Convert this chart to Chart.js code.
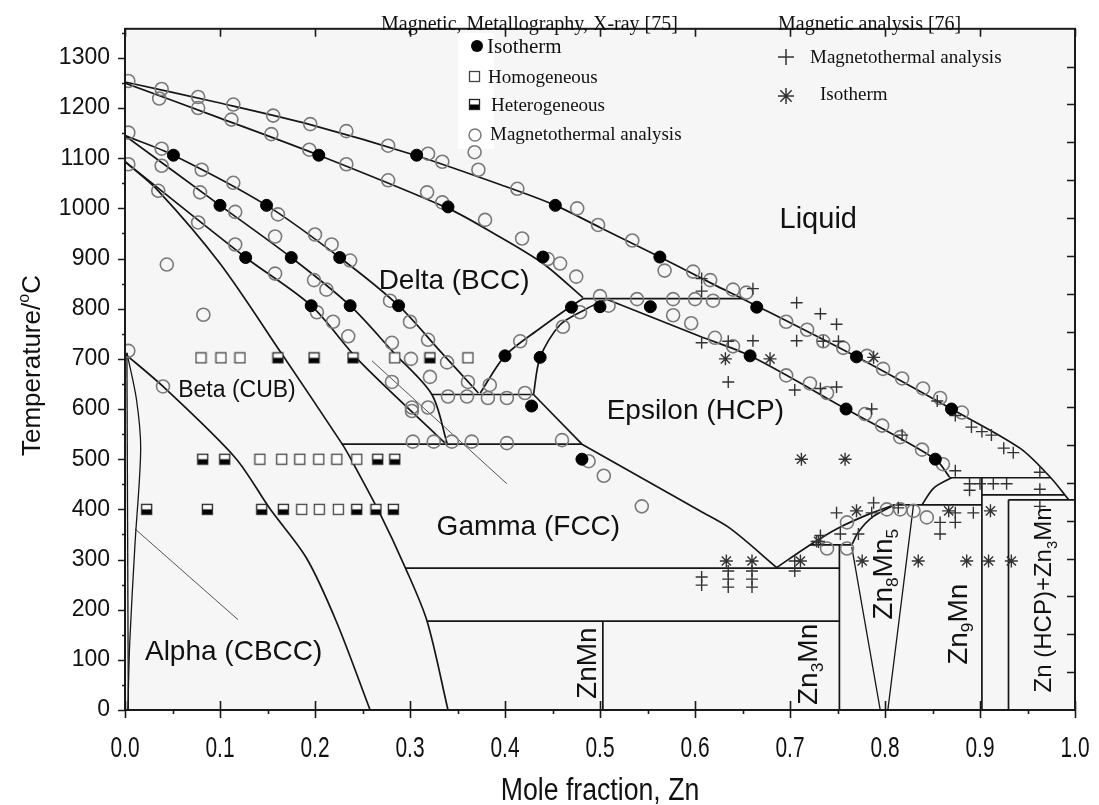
<!DOCTYPE html>
<html>
<head>
<meta charset="utf-8">
<script src="https://cdn.jsdelivr.net/npm/chart.js@4.4.1/dist/chart.umd.min.js"></script>
<style>
  html, body { margin: 0; padding: 0; background: #fff; }
</style>
</head>
<body>
<canvas id="phase" width="1099" height="805"></canvas>
<script>
/* Mn–Zn phase diagram: boundaries + experimental points */

const xTicks = [0, 0.1, 0.2, 0.3, 0.4, 0.5, 0.6, 0.7, 0.8, 0.9, 1.0];
const yTicks = [0, 100, 200, 300, 400, 500, 600, 700, 800, 900, 1000, 1100, 1200, 1300];

// phase boundaries, [mole fraction Zn, T °C]
const liquidus = [[0, 1252], [0.1, 1210], [0.195, 1167], [0.307, 1105], [0.4, 1044], [0.453, 1006], [0.5, 962], [0.563, 903], [0.62, 848], [0.652, 818], [0.77, 704], [0.87, 600], [0.942, 522], [0.974, 464], [0.993, 420]];
const deltaSolidus = [[0, 1250], [0.1, 1180], [0.204, 1106], [0.34, 1000], [0.39, 948], [0.44, 890], [0.482, 822]];
const deltaUpper = [[0, 1145], [0.051, 1106], [0.149, 1006], [0.226, 902], [0.288, 806], [0.33, 719], [0.372, 632]];
const deltaLower = [[0, 1145], [0.1, 1006], [0.175, 902], [0.237, 806], [0.283, 712], [0.323, 629], [0.339, 532]];
const fanMid = [[0, 1093], [0.127, 902], [0.196, 806], [0.246, 697], [0.337, 532]];
const fanSteep = [[0, 1093], [0.035, 1035], [0.1, 890], [0.165, 710], [0.228, 532], [0.237, 503], [0.268, 393], [0.295, 284], [0.318, 177], [0.34, 0]];
const betaAlpha = [[0, 710], [0.04, 645], [0.116, 503], [0.153, 400], [0.191, 303], [0.223, 174], [0.258, 0]];
const lensRight = [[0.002, 712], [0.012, 620], [0.0165, 520], [0.0105, 330], [0.005, 135], [0.003, 0]];
const lensLeft = [[0.002, 712], [0.0035, 0]];
const thinAlpha = [[0.0105, 361], [0.119, 180]];
const thinGamma = [[0.26, 696], [0.402, 451]];
const peritectic820 = [[0.482, 820], [0.652, 820]];
const deltaEpsLeft = [[0.374, 632], [0.4, 706], [0.437, 761], [0.468, 803], [0.482, 820]];
const deltaEpsRight = [[0.43, 629], [0.437, 703], [0.458, 768], [0.486, 800], [0.507, 819]];
const iso629 = [[0.323, 629], [0.43, 629]];
const gammaEpsTop = [[0.43, 629], [0.481, 530]];
const iso530 = [[0.228, 530], [0.481, 530]];
const gammaEps = [[0.481, 530], [0.55, 456], [0.605, 397], [0.637, 362], [0.686, 284]];
const epsSolidus = [[0.507, 819], [0.605, 745], [0.658, 706], [0.759, 600], [0.853, 500], [0.868, 464]];
const iso283 = [[0.295, 283], [0.752, 283]];
const iso177 = [[0.318, 177], [0.752, 177]];
const znMn = [[0.503, 0], [0.503, 177]];
const zn3Mn = [[0.752, 0], [0.752, 329]];
const iso329 = [[0.721, 329], [0.765, 329]];
const zn8Mn5Upper = [[0.686, 284], [0.721, 329], [0.75, 362], [0.785, 392], [0.81, 409]];
const zn8Mn5Inner = [[0.765, 329], [0.772, 355], [0.787, 385], [0.81, 409]];
const zn8Mn5Left = [[0.765, 325], [0.795, 0]];
const zn8Mn5Right = [[0.83, 409], [0.803, 0]];
const iso409 = [[0.81, 409], [0.902, 409]];
const epsLower = [[0.839, 409], [0.851, 442], [0.87, 463]];
const iso463 = [[0.868, 463], [0.974, 463]];
const zn9Mn = [[0.902, 0], [0.902, 463]];
const zn93 = [[0.93, 0], [0.93, 419]];
const iso429 = [[0.902, 429], [0.989, 429]];
const iso419 = [[0.93, 419], [1.0, 419]];

// [75] magnetic, metallography, X-ray
const isotherm75 = [[0.051, 1106], [0.204, 1106], [0.307, 1106], [0.1, 1006], [0.149, 1006], [0.34, 1003], [0.453, 1006],
  [0.127, 902], [0.175, 902], [0.226, 902], [0.44, 903], [0.563, 903], [0.196, 806], [0.237, 806], [0.288, 806],
  [0.47, 803], [0.5, 804], [0.553, 804], [0.665, 803], [0.4, 706], [0.437, 703], [0.658, 706], [0.77, 704],
  [0.428, 606], [0.759, 600], [0.87, 600], [0.481, 500], [0.853, 500]];
const homogeneous = [[0.08, 702], [0.101, 702], [0.121, 702], [0.284, 702], [0.361, 702],
  [0.142, 500], [0.165, 500], [0.184, 500], [0.204, 500], [0.223, 500], [0.244, 500],
  [0.186, 400], [0.2045, 400], [0.2246, 400]];
const heterogeneous = [[0.161, 702], [0.199, 702], [0.24, 702], [0.321, 702],
  [0.0818, 500], [0.105, 500], [0.266, 500], [0.284, 500],
  [0.0228, 400], [0.0867, 400], [0.1439, 400], [0.1667, 400], [0.2439, 400], [0.2642, 400], [0.2825, 400]];
const magneto75 = [[0.0035, 1254], [0.0386, 1238], [0.036, 1219], [0.077, 1222], [0.077, 1200], [0.114, 1207], [0.112, 1177],
  [0.156, 1185], [0.154, 1148], [0.195, 1168], [0.194, 1117], [0.233, 1154], [0.233, 1088], [0.277, 1125], [0.277, 1056],
  [0.319, 1109], [0.334, 1093], [0.318, 1032], [0.334, 1012], [0.0035, 1151], [0.0386, 1119], [0.0386, 1085], [0.0035, 1088],
  [0.035, 1035], [0.0807, 1077], [0.079, 1032], [0.077, 972], [0.114, 1051], [0.116, 993], [0.116, 928], [0.161, 988],
  [0.158, 944], [0.2, 948], [0.2175, 928], [0.237, 896], [0.044, 888], [0.158, 870], [0.199, 857], [0.212, 838],
  [0.0825, 788], [0.202, 793], [0.219, 774], [0.235, 745], [0.279, 816], [0.3, 774], [0.319, 738], [0.281, 732],
  [0.301, 700], [0.339, 693], [0.321, 664], [0.281, 654], [0.302, 603], [0.319, 603], [0.303, 535], [0.325, 535],
  [0.344, 535], [0.365, 535], [0.34, 625], [0.36, 625], [0.361, 654], [0.368, 1112], [0.372, 1077], [0.0035, 716],
  [0.04, 645], [0.458, 890], [0.475, 864], [0.5, 825], [0.509, 806], [0.479, 793], [0.461, 764], [0.416, 735],
  [0.384, 648], [0.382, 622], [0.402, 622], [0.421, 632], [0.302, 596], [0.402, 532], [0.46, 538], [0.488, 496],
  [0.504, 467], [0.544, 406], [0.539, 819], [0.577, 819], [0.6, 819], [0.619, 816], [0.577, 787], [0.596, 771],
  [0.621, 742], [0.64, 725], [0.598, 874], [0.616, 857], [0.64, 838], [0.654, 832], [0.413, 1039], [0.476, 1000],
  [0.498, 967], [0.534, 936], [0.568, 876], [0.418, 940], [0.379, 977], [0.445, 899],
  [0.696, 774], [0.718, 758], [0.735, 735], [0.756, 722], [0.781, 706], [0.798, 680], [0.818, 661], [0.84, 641],
  [0.858, 622], [0.881, 593], [0.696, 667], [0.721, 651], [0.739, 632], [0.779, 590], [0.797, 567], [0.816, 544],
  [0.839, 519], [0.861, 490], [0.739, 322], [0.76, 322], [0.802, 400], [0.816, 400], [0.83, 397], [0.844, 384], [0.76, 374]];

// [76] magnetic analysis
const magneto76 = [[0.607, 860], [0.607, 835], [0.661, 840], [0.707, 812], [0.732, 790], [0.749, 769], [0.607, 732],
  [0.635, 735], [0.661, 736], [0.707, 736], [0.735, 735], [0.751, 735], [0.635, 654], [0.705, 638], [0.732, 641],
  [0.749, 644], [0.786, 600], [0.818, 548], [0.855, 616], [0.874, 587], [0.891, 564], [0.902, 555], [0.912, 548],
  [0.925, 522], [0.935, 513], [0.874, 477], [0.963, 474],
  [0.607, 265], [0.607, 249], [0.635, 277], [0.635, 261], [0.635, 245], [0.66, 277], [0.66, 261], [0.66, 245],
  [0.705, 297], [0.705, 277], [0.728, 336], [0.732, 348], [0.749, 393], [0.753, 351], [0.772, 351], [0.788, 413],
  [0.786, 393], [0.814, 403], [0.858, 374], [0.858, 351], [0.874, 393], [0.874, 374], [0.893, 393], [0.889, 451],
  [0.889, 438], [0.9, 451], [0.914, 451], [0.928, 451], [0.963, 406], [0.963, 440]];
const isotherm76 = [[0.632, 700], [0.679, 700], [0.788, 703], [0.712, 500], [0.758, 500],
  [0.633, 297], [0.66, 297], [0.711, 297], [0.776, 297], [0.835, 297], [0.886, 297], [0.909, 297], [0.933, 297],
  [0.73, 336], [0.77, 397], [0.867, 397], [0.911, 397]];

// text placed on the diagram (left end of baseline, data coords)
const phaseLabels = [
  { parts: [['Liquid']], x: 0.689, y: 961, size: 29 },
  { parts: [['Delta (BCC)']], x: 0.267, y: 840, size: 28 },
  { parts: [['Epsilon (HCP)']], x: 0.507, y: 581, size: 28 },
  { parts: [['Beta (CUB)']], x: 0.056, y: 624, size: 23 },
  { parts: [['Gamma (FCC)']], x: 0.328, y: 348, size: 28 },
  { parts: [['Alpha (CBCC)']], x: 0.021, y: 100, size: 28 },
  { parts: [['ZnMn']], x: 0.4955, y: 22, size: 28, rot: true },
  { parts: [['Zn'], ['3', 'sub'], ['Mn']], x: 0.728, y: 10, size: 28, rot: true },
  { parts: [['Zn'], ['8', 'sub'], ['Mn'], ['5', 'sub']], x: 0.807, y: 180, size: 28, rot: true },
  { parts: [['Zn'], ['9', 'sub'], ['Mn']], x: 0.886, y: 90, size: 28, rot: true },
  { parts: [['Zn (HCP)+Zn'], ['3', 'sub'], ['Mn']], x: 0.975, y: 35, size: 24, rot: true }
];

const SANS = '"Liberation Sans", Arial, sans-serif';
const SERIF = '"Liberation Serif", "Times New Roman", serif';

const toXY = arr => arr.map(([x, y]) => ({ x, y }));

function hetSquare() {
  const c = document.createElement('canvas');
  c.width = 13; c.height = 13;
  const g = c.getContext('2d');
  g.fillStyle = '#fff'; g.fillRect(1, 1, 11, 11);
  g.fillStyle = '#000'; g.fillRect(1, 6.5, 11, 5.5);
  g.strokeStyle = '#222'; g.lineWidth = 1.3; g.strokeRect(1.5, 1.5, 10, 10);
  return c;
}
function homSquare() {
  const c = document.createElement('canvas');
  c.width = 13; c.height = 13;
  const g = c.getContext('2d');
  g.fillStyle = '#fff'; g.fillRect(1, 1, 11, 11);
  g.strokeStyle = '#444'; g.lineWidth = 1.3; g.strokeRect(1.5, 1.5, 10, 10);
  return c;
}
const hetImg = hetSquare();
const homImg = homSquare();

function line(pts, opts = {}) {
  return Object.assign({
    data: toXY(pts), showLine: true, pointRadius: 0, borderColor: '#161616',
    borderWidth: 1.7, tension: 0.3, fill: false
  }, opts);
}

const datasets = [
  { data: toXY(isotherm75), pointStyle: 'circle', pointRadius: 6, backgroundColor: '#000', borderColor: '#000', borderWidth: 1 },
  { data: toXY(isotherm76), pointStyle: 'star', pointRadius: 6.5, borderColor: '#333', borderWidth: 1.4 },
  { data: toXY(magneto76), pointStyle: 'cross', pointRadius: 6, borderColor: '#333', borderWidth: 1.4 },
  { data: toXY(heterogeneous), pointStyle: hetImg },
  { data: toXY(homogeneous), pointStyle: homImg },
  { data: toXY(magneto75), pointStyle: 'circle', pointRadius: 6.5, backgroundColor: 'rgba(0,0,0,0)', borderColor: '#7a7a7a', borderWidth: 1.6 },
  line(liquidus), line(deltaSolidus), line(deltaUpper), line(deltaLower), line(fanMid), line(fanSteep),
  line(betaAlpha), line(lensRight, { borderWidth: 1.3 }), line(lensLeft, { borderWidth: 1.3, tension: 0 }),
  line(thinAlpha, { borderWidth: 1, borderColor: '#555', tension: 0 }),
  line(thinGamma, { borderWidth: 1, borderColor: '#555', tension: 0 }),
  line(peritectic820, { tension: 0 }), line(deltaEpsLeft), line(deltaEpsRight),
  line(iso629, { tension: 0 }), line(gammaEpsTop, { tension: 0 }), line(iso530, { tension: 0 }),
  line(gammaEps), line(epsSolidus), line(iso283, { tension: 0 }), line(iso177, { tension: 0 }),
  line(znMn, { tension: 0 }), line(zn3Mn, { tension: 0 }), line(iso329, { tension: 0 }),
  line(zn8Mn5Upper), line(zn8Mn5Inner), line(zn8Mn5Left, { tension: 0, borderWidth: 1.3 }),
  line(zn8Mn5Right, { tension: 0, borderWidth: 1.3 }), line(iso409, { tension: 0 }), line(epsLower),
  line(iso463, { tension: 0 }), line(zn9Mn, { tension: 0 }), line(zn93, { tension: 0 }),
  line(iso429, { tension: 0 }), line(iso419, { tension: 0 })
];

function drawRich(ctx, parts, x, y, size, rot) {
  ctx.save();
  ctx.translate(x, y);
  if (rot) ctx.rotate(-Math.PI / 2);
  ctx.textAlign = 'left';
  ctx.textBaseline = 'alphabetic';
  let cx = 0;
  for (const [txt, kind] of parts) {
    const fs = kind ? size * 0.62 : size;
    ctx.font = fs + 'px ' + SANS;
    const dy = kind === 'sub' ? size * 0.22 : kind === 'sup' ? -size * 0.42 : 0;
    ctx.fillText(txt, cx, dy);
    cx += ctx.measureText(txt).width;
  }
  ctx.restore();
}

function drawNarrow(ctx, text, cx, base, size, sx) {
  ctx.save();
  ctx.translate(cx, base);
  ctx.scale(sx, 1);
  ctx.font = size + 'px ' + SANS;
  ctx.textAlign = 'center';
  ctx.textBaseline = 'alphabetic';
  ctx.fillText(text, 0, 0);
  ctx.restore();
}

const decor = {
  id: 'decor',
  beforeDatasetsDraw(chart) {
    const { ctx, chartArea: a } = chart;
    ctx.save();
    ctx.fillStyle = '#f6f6f6';
    ctx.fillRect(a.left, a.top, a.right - a.left, a.bottom - a.top);
    // white patch behind the [75] legend symbols
    ctx.fillStyle = '#fff';
    ctx.fillRect(458, 33, 36, 116);
    ctx.restore();
  },
  afterDraw(chart) {
    const { ctx, chartArea: a, scales } = chart;
    const xs = scales.x, ys = scales.y, y2 = scales.y2;
    ctx.save();
    ctx.strokeStyle = '#1a1a1a';
    ctx.fillStyle = '#111';

    // frame
    ctx.lineWidth = 2;
    ctx.strokeRect(a.left, a.top, a.right - a.left, a.bottom - a.top);

    // left ticks (outward)
    ctx.lineWidth = 1.6;
    ctx.beginPath();
    for (let v = 0; v <= 1350; v += 50) {
      const p = Math.round(ys.getPixelForValue(v)) + 0.5;
      const len = v % 100 === 0 ? 7 : 3;
      ctx.moveTo(a.left, p); ctx.lineTo(a.left - len, p);
    }
    // bottom ticks
    for (let i = 0; i <= 20; i++) {
      const p = Math.round(xs.getPixelForValue(i * 0.05)) + 0.5;
      if (i % 2 === 0) { ctx.moveTo(p, a.bottom - 9); ctx.lineTo(p, a.bottom + 8); }
      else { ctx.moveTo(p, a.bottom); ctx.lineTo(p, a.bottom + 4); }
    }
    // top ticks (inward)
    for (const v of xTicks) {
      const p = Math.round(xs.getPixelForValue(v)) + 0.5;
      ctx.moveTo(p, a.top); ctx.lineTo(p, a.top + 8);
    }
    // right ticks (inward, secondary scale)
    for (let k = 1; k < 18; k++) {
      const p = Math.round(y2.getPixelForValue(k)) + 0.5;
      ctx.moveTo(a.right, p); ctx.lineTo(a.right - 8, p);
    }
    ctx.stroke();

    // x tick labels
    for (const v of xTicks) {
      drawNarrow(ctx, v.toFixed(1), xs.getPixelForValue(v), 757, 29, 0.72);
    }
    // axis titles
    drawNarrow(ctx, 'Mole fraction, Zn', (a.left + a.right) / 2, 800, 31, 0.86);
    drawRich(ctx, [['Temperature/'], ['o', 'sup'], ['C']], 40, 456, 26, true);

    // phase labels
    for (const l of phaseLabels) {
      drawRich(ctx, l.parts, xs.getPixelForValue(l.x), ys.getPixelForValue(l.y), l.size, l.rot);
    }

    // legend [75]
    ctx.font = '20px ' + SERIF;
    ctx.textAlign = 'left';
    ctx.textBaseline = 'alphabetic';
    ctx.fillText('Magnetic, Metallography, X-ray [75]', 381, 30);
    ctx.font = '21px ' + SERIF;
    ctx.fillText('Isotherm', 487, 53);
    ctx.font = '19px ' + SERIF;
    ctx.fillText('Homogeneous', 488, 83);
    ctx.fillText('Heterogeneous', 491, 111);
    ctx.fillText('Magnetothermal analysis', 490, 140);
    ctx.beginPath(); ctx.arc(477, 46, 6, 0, Math.PI * 2); ctx.fillStyle = '#000'; ctx.fill();
    ctx.drawImage(homImg, 468, 70);
    ctx.drawImage(hetImg, 468, 98);
    ctx.beginPath(); ctx.arc(475, 135, 6, 0, Math.PI * 2);
    ctx.strokeStyle = '#7a7a7a'; ctx.lineWidth = 1.5; ctx.stroke();

    // legend [76]
    ctx.fillStyle = '#111';
    ctx.font = '20px ' + SERIF;
    ctx.fillText('Magnetic analysis [76]', 778, 30);
    ctx.font = '19px ' + SERIF;
    ctx.fillText('Magnetothermal analysis', 810, 63);
    ctx.fillText('Isotherm', 820, 100);
    ctx.strokeStyle = '#333'; ctx.lineWidth = 1.5;
    ctx.beginPath();
    ctx.moveTo(778, 57); ctx.lineTo(794, 57); ctx.moveTo(786, 49); ctx.lineTo(786, 65);
    for (let k = 0; k < 4; k++) {
      const t = k * Math.PI / 4;
      ctx.moveTo(786 - 8 * Math.cos(t), 96 - 8 * Math.sin(t));
      ctx.lineTo(786 + 8 * Math.cos(t), 96 + 8 * Math.sin(t));
    }
    ctx.stroke();
    ctx.restore();
  }
};

new Chart(document.getElementById('phase'), {
  type: 'scatter',
  data: { datasets },
  options: {
    responsive: false,
    animation: false,
    events: [],
    devicePixelRatio: 1,
    layout: { padding: { top: 8, right: 24, left: 0, bottom: 0 } },
    plugins: { legend: { display: false }, tooltip: { enabled: false } },
    scales: {
      x: {
        type: 'linear', min: 0, max: 1,
        grid: { display: false, drawTicks: false }, border: { display: false },
        ticks: { display: false },
        afterBuildTicks: s => { s.ticks = xTicks.map(v => ({ value: v })); },
        afterFit: s => { s.height = 95; }
      },
      y: {
        type: 'linear', min: 0, max: 1358,
        grid: { display: false, drawTicks: false }, border: { display: false },
        ticks: { color: '#111', padding: 15, font: { family: SANS, size: 23 }, callback: v => String(v) },
        afterBuildTicks: s => { s.ticks = yTicks.map(v => ({ value: v })); },
        afterFit: s => { s.width = 125; }
      },
      y2: { type: 'linear', position: 'right', min: 0, max: 18, display: false }
    }
  },
  plugins: [decor]
});
</script>
</body>
</html>
